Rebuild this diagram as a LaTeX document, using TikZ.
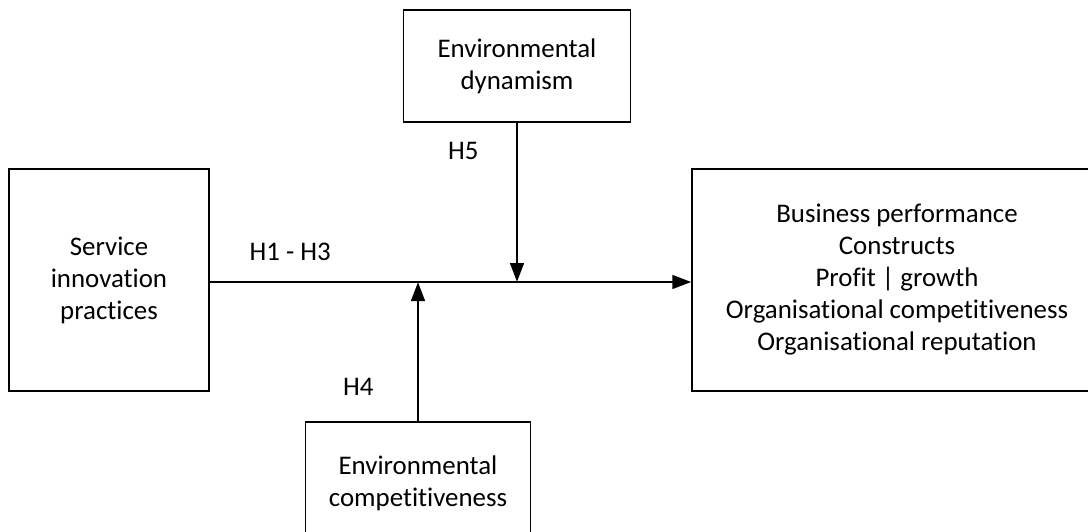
\documentclass[tikz,border=0pt]{standalone}
\usepackage{fontspec}
\setmainfont{Carlito}[Ligatures=NoCommon]
\usepackage{xcolor}
\usepackage{tikz}
\usetikzlibrary{positioning,arrows.meta}

\begin{document}
\begin{tikzpicture}[x=0.02cm, y=-0.02cm,
    font=\fontsize{15.3pt}{18.2pt}\selectfont,
    box/.style={draw, line width=0.8pt, align=center, inner sep=0pt},
    link/.style={-{Triangle[length=0.38cm, width=0.27cm]}, line width=1.65pt},
    hyp/.style={inner sep=0pt}]
\clip (0,0) rectangle (1088,531);
\useasboundingbox (0,0) rectangle (1088,531);

\node[box, minimum width=4cm, minimum height=4.44cm] (service) at (109,280) {Service\\innovation\\practices};
\node[box, minimum width=4.54cm, minimum height=2.24cm] (dynamism) at (517,66) {Environmental\\dynamism};
\node[box, minimum width=4.5cm, minimum height=2.44cm] (competition) at (418,483) {Environmental\\competitiveness};
\node[box, minimum width=8.2cm, minimum height=4.44cm] (performance) at (897,280) {Business performance\\Constructs\\Profit | growth\\Organisational competitiveness\\Organisational reputation};

\coordinate (dynhit) at (dynamism.south |- 0,282);
\coordinate (comphit) at (competition.north |- 0,282);

\draw[link] (service.east |- 0,282) -- (performance.west |- 0,282)
    node[hyp, pos=0.167, above=0.4cm] {H1 - H3};
\draw[link] (dynamism) -- (dynhit)
    node[hyp, pos=0.18, left=0.74cm] {H5};
\draw[link] (competition) -- (comphit)
    node[hyp, pos=0.25, left=0.86cm] {H4};

\end{tikzpicture}
\end{document}
